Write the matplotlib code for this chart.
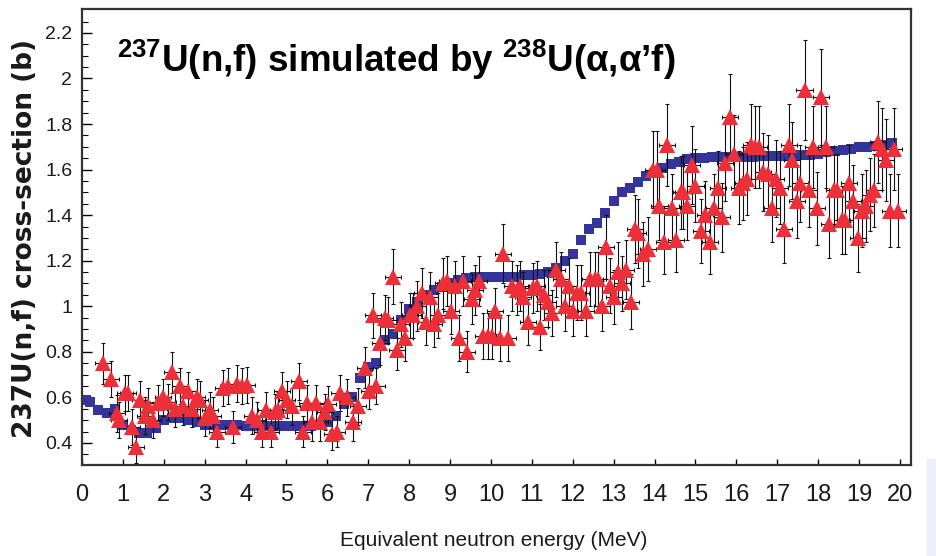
import matplotlib
matplotlib.use("Agg")
import matplotlib.pyplot as plt
from matplotlib.patches import Rectangle

plt.rcParams['mathtext.fontset'] = 'custom'
plt.rcParams['mathtext.rm'] = 'Liberation Sans:bold'
plt.rcParams['mathtext.it'] = 'Liberation Sans:bold'
plt.rcParams['mathtext.bf'] = 'Liberation Sans:bold'

# ---- evaluated curve (blue squares) ----
eval_e = [0.1, 0.2, 0.4, 0.6, 0.8, 1.0, 1.2, 1.4, 1.6, 1.8, 2.0,
          2.2, 2.4, 2.6, 2.8, 3.0, 3.2, 3.4, 3.6, 3.8, 4.0,
          4.2, 4.4, 4.6, 4.8, 5.0, 5.2, 5.4, 5.6, 5.8, 6.0,
          6.2, 6.4, 6.6, 6.8, 7.0, 7.2, 7.4, 7.6, 7.8, 8.0,
          8.2, 8.4, 8.6, 8.8, 9.0, 9.2, 9.4, 9.6, 9.8, 10.0,
          10.2, 10.4, 10.6, 10.8, 11.0, 11.2, 11.4, 11.6, 11.8, 12.0,
          12.2, 12.4, 12.6, 12.8, 13.0, 13.2, 13.4, 13.6, 13.8, 14.0,
          14.2, 14.4, 14.6, 14.8, 15.0, 15.2, 15.4, 15.6, 15.8, 16.0,
          16.2, 16.4, 16.6, 16.8, 17.0, 17.2, 17.4, 17.6, 17.8, 18.0,
          18.2, 18.4, 18.6, 18.8, 19.0, 19.2, 19.4, 19.6, 19.8]
eval_s = [0.59, 0.58, 0.545, 0.53, 0.55, 0.48, 0.455, 0.445, 0.445, 0.465, 0.50,
          0.51, 0.51, 0.50, 0.49, 0.48, 0.48, 0.48, 0.48, 0.48, 0.475,
          0.475, 0.475, 0.475, 0.475, 0.475, 0.475, 0.475, 0.475, 0.48, 0.49,
          0.52, 0.57, 0.60, 0.685, 0.735, 0.75, 0.85, 0.88, 0.94, 0.99,
          1.02, 1.05, 1.07, 1.085, 1.10, 1.115, 1.125, 1.13, 1.13, 1.13,
          1.13, 1.13, 1.13, 1.135, 1.135, 1.14, 1.15, 1.17, 1.20, 1.23,
          1.29, 1.34, 1.365, 1.41, 1.46, 1.50, 1.52, 1.545, 1.57, 1.59,
          1.605, 1.625, 1.635, 1.645, 1.65, 1.65, 1.655, 1.655, 1.655, 1.655,
          1.655, 1.655, 1.66, 1.66, 1.66, 1.66, 1.665, 1.665, 1.665, 1.67,
          1.675, 1.68, 1.685, 1.69, 1.70, 1.70, 1.705, 1.71, 1.715]

# ---- surrogate measurement (red triangles) ----
meas_e = [0.51, 0.71, 0.85, 0.90, 1.05, 1.12, 1.22, 1.32, 1.42, 1.54,
          1.62, 1.74, 1.86, 1.98, 2.10, 2.20, 2.28, 2.40, 2.47, 2.60,
          2.69, 2.81, 2.88, 3.00, 3.13, 3.20, 3.30, 3.45, 3.57, 3.69,
          3.79, 3.91, 4.03, 4.16, 4.28, 4.40, 4.50, 4.61, 4.72, 4.80,
          4.89, 5.01, 5.13, 5.31, 5.41, 5.50, 5.62, 5.72, 5.82, 5.94,
          6.01, 6.11, 6.23, 6.30, 6.47, 6.63, 6.75, 6.92, 7.02, 7.11,
          7.20, 7.29, 7.41, 7.49, 7.61, 7.70, 7.80, 7.90, 8.02, 8.10,
          8.20, 8.31, 8.41, 8.51, 8.61, 8.70, 8.83, 8.92, 9.02, 9.12,
          9.22, 9.32, 9.42, 9.53, 9.61, 9.71, 9.80, 9.93, 10.02, 10.10,
          10.22, 10.30, 10.42, 10.51, 10.63, 10.71, 10.79, 10.90, 11.03, 11.12,
          11.20, 11.30, 11.39, 11.50, 11.60, 11.71, 11.80, 11.90, 12.00, 12.10,
          12.20, 12.32, 12.42, 12.54, 12.62, 12.71, 12.81, 12.91, 13.01, 13.10,
          13.20, 13.30, 13.42, 13.52, 13.60, 13.72, 13.84, 13.97, 14.06, 14.12,
          14.23, 14.30, 14.43, 14.53, 14.64, 14.69, 14.80, 14.92, 15.00, 15.13,
          15.23, 15.35, 15.45, 15.55, 15.65, 15.72, 15.84, 15.94, 16.06, 16.16,
          16.26, 16.36, 16.45, 16.55, 16.65, 16.77, 16.87, 16.97, 17.07, 17.16,
          17.29, 17.36, 17.48, 17.56, 17.67, 17.77, 17.87, 17.97, 18.07, 18.19,
          18.26, 18.39, 18.46, 18.58, 18.66, 18.75, 18.85, 18.97, 19.07, 19.17,
          19.27, 19.36, 19.46, 19.56, 19.66, 19.75, 19.86, 19.95]
meas_s = [0.75, 0.68, 0.53, 0.50, 0.62, 0.62, 0.47, 0.38, 0.59, 0.52,
          0.56, 0.50, 0.575, 0.60, 0.58, 0.71, 0.55, 0.65, 0.56, 0.63,
          0.55, 0.60, 0.59, 0.51, 0.545, 0.52, 0.45, 0.64, 0.65, 0.47,
          0.66, 0.65, 0.655, 0.52, 0.50, 0.45, 0.545, 0.45, 0.535, 0.545,
          0.63, 0.59, 0.56, 0.67, 0.45, 0.575, 0.49, 0.575, 0.49, 0.535,
          0.57, 0.44, 0.45, 0.62, 0.60, 0.49, 0.56, 0.73, 0.63, 0.96,
          0.65, 0.84, 0.95, 0.94, 1.13, 0.81, 0.92, 0.86, 0.96, 0.96,
          1.00, 1.06, 0.93, 1.04, 0.92, 0.96, 1.10, 1.11, 0.98, 1.09,
          0.86, 1.11, 0.80, 1.03, 1.07, 1.11, 0.87, 0.87, 0.87, 0.98,
          0.86, 1.23, 0.86, 1.09, 1.07, 1.09, 1.04, 0.93, 1.08, 1.09,
          0.91, 1.05, 1.02, 0.97, 1.16, 1.12, 1.00, 1.09, 0.98, 1.06,
          1.06, 0.98, 1.12, 1.12, 1.12, 1.00, 1.26, 1.09, 1.04, 1.15,
          1.10, 1.16, 1.02, 1.34, 1.32, 1.23, 1.25, 1.60, 1.60, 1.44,
          1.28, 1.71, 1.43, 1.29, 1.50, 1.50, 1.44, 1.62, 1.53, 1.33,
          1.40, 1.28, 1.43, 1.52, 1.39, 1.63, 1.83, 1.67, 1.52, 1.54,
          1.56, 1.71, 1.70, 1.70, 1.59, 1.58, 1.43, 1.56, 1.52, 1.34,
          1.71, 1.64, 1.46, 1.54, 1.95, 1.51, 1.70, 1.43, 1.92, 1.70,
          1.36, 1.51, 1.51, 1.38, 1.38, 1.54, 1.46, 1.30, 1.42, 1.44,
          1.49, 1.51, 1.72, 1.69, 1.64, 1.42, 1.69, 1.42]
meas_err = [0.09, 0.08, 0.08, 0.08, 0.08, 0.08, 0.08, 0.07, 0.08, 0.08,
            0.08, 0.08, 0.08, 0.08, 0.08, 0.09, 0.08, 0.08, 0.08, 0.08,
            0.08, 0.08, 0.08, 0.08, 0.08, 0.08, 0.07, 0.08, 0.08, 0.07,
            0.08, 0.08, 0.08, 0.08, 0.08, 0.07, 0.08, 0.07, 0.08, 0.08,
            0.08, 0.08, 0.08, 0.08, 0.07, 0.08, 0.08, 0.08, 0.08, 0.08,
            0.08, 0.07, 0.07, 0.08, 0.08, 0.08, 0.08, 0.09, 0.08, 0.10,
            0.08, 0.10, 0.10, 0.10, 0.12, 0.09, 0.10, 0.10, 0.10, 0.10,
            0.11, 0.11, 0.10, 0.11, 0.10, 0.10, 0.11, 0.11, 0.10, 0.11,
            0.10, 0.11, 0.09, 0.11, 0.11, 0.11, 0.10, 0.10, 0.10, 0.10,
            0.10, 0.13, 0.10, 0.11, 0.11, 0.11, 0.11, 0.10, 0.11, 0.11,
            0.10, 0.11, 0.11, 0.10, 0.12, 0.12, 0.11, 0.12, 0.11, 0.12,
            0.12, 0.11, 0.12, 0.12, 0.12, 0.11, 0.14, 0.12, 0.12, 0.13,
            0.12, 0.13, 0.12, 0.15, 0.15, 0.14, 0.14, 0.17, 0.17, 0.15,
            0.14, 0.18, 0.15, 0.14, 0.16, 0.16, 0.15, 0.17, 0.16, 0.14,
            0.15, 0.14, 0.15, 0.16, 0.15, 0.17, 0.19, 0.17, 0.16, 0.16,
            0.16, 0.18, 0.18, 0.18, 0.17, 0.17, 0.15, 0.17, 0.16, 0.15,
            0.18, 0.17, 0.16, 0.17, 0.22, 0.16, 0.18, 0.16, 0.21, 0.18,
            0.15, 0.16, 0.16, 0.15, 0.15, 0.17, 0.16, 0.15, 0.16, 0.16,
            0.16, 0.16, 0.18, 0.18, 0.18, 0.16, 0.18, 0.16]
meas_xerr = 0.2

x_ticks = list(range(0, 21))
y_ticks = [0.4, 0.6, 0.8, 1.0, 1.2, 1.4, 1.6, 1.8, 2.0, 2.2]
y_ticklabels = ['0.4', '0.6', '0.8', '1', '1.2', '1.4', '1.6', '1.8', '2', '2.2']

W, H = 936, 556
fig = plt.figure(figsize=(W / 100, H / 100), dpi=100)
fig.patches.append(Rectangle((927 / W, 0), 1 - 927 / W, 97 / H,
                             transform=fig.transFigure, color='#eceefa', zorder=0))

ax = fig.add_axes([82 / W, 1 - 465 / H, (911 - 82) / W, (465 - 9) / H])
ax.set_xlim(0, 20.27)
ax.set_ylim(0.303, 2.305)

ax.plot(eval_e, eval_s, linestyle='none', marker='s', markersize=7.2,
        color='#34349a', markeredgewidth=0, zorder=2)
ax.errorbar(meas_e, meas_s, yerr=meas_err, xerr=meas_xerr, fmt='none',
            ecolor='#111111', elinewidth=0.8, capsize=1.5, capthick=0.8, zorder=3)
ax.plot(meas_e, meas_s, linestyle='none', marker='^', markersize=11,
        color='#ec2f38', markeredgewidth=0, zorder=4)

for s in ax.spines.values():
    s.set_linewidth(1.6)
    s.set_color('#333333')

ax.set_xticks(x_ticks)
ax.set_xticklabels([str(t) for t in x_ticks])
ax.set_yticks(y_ticks)
ax.set_yticklabels(y_ticklabels)
ax.set_yticks([0.35 + 0.05 * i for i in range(40) if 0.35 + 0.05 * i < 2.3], minor=True)
ax.tick_params(axis='x', direction='in', length=4, width=1, pad=14, labelsize=17)
ax.tick_params(axis='y', which='major', direction='in', length=7, width=1, pad=7, labelsize=14)
ax.tick_params(axis='y', which='minor', direction='in', length=4, width=0.8)
for lab in ax.get_xticklabels() + ax.get_yticklabels():
    lab.set_family('Liberation Sans')
    lab.set_color('#1a1a1a')

fig.text(117 / W, 1 - 72 / H,
         r"$^{237}$U(n,f) simulated by $^{238}$U(α,α’f)",
         fontsize=26.5, fontweight='bold', family='Liberation Sans',
         ha='left', va='baseline', color='black')

fig.text(25 / W, 1 - 238 / H, "237U(n,f) cross-section (b)", rotation=90,
         fontsize=19, fontweight='bold', family='DejaVu Sans',
         ha='center', va='center', color='#1a1a1a')

fig.text(494 / W, 1 - 541 / H, "Equivalent neutron energy (MeV)",
         fontsize=15, family='Liberation Sans', ha='center', va='center',
         color='#1a1a1a')

fig.savefig('out.png', dpi=100)
